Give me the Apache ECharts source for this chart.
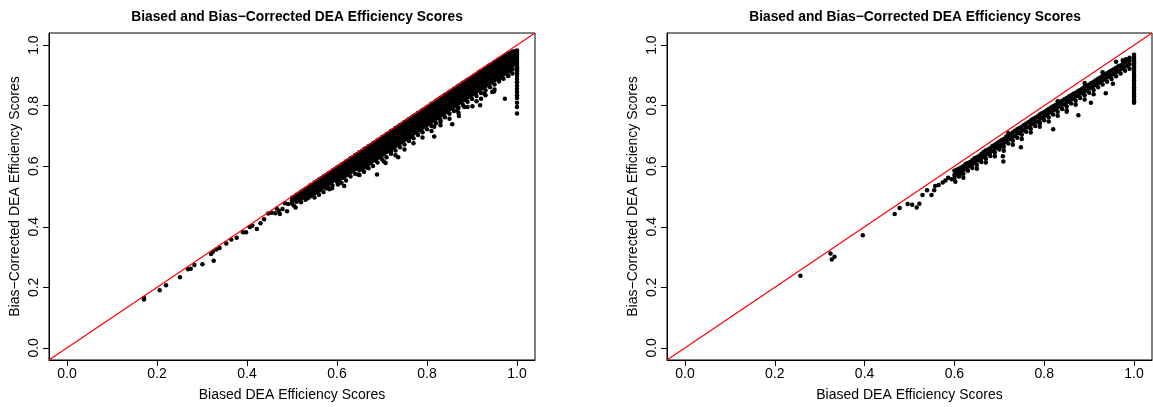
<!DOCTYPE html>
<html>
<head>
<meta charset="utf-8">
<script src="https://cdn.jsdelivr.net/npm/echarts@6/dist/echarts.min.js"></script>
<style>
  html, body { margin: 0; padding: 0; background: #fff; }
  #main { width: 1153px; height: 407px; }
</style>
</head>
<body>
<div id="main"></div>
<script>
// ---- data ----
var tickValues = [0, 0.2, 0.4, 0.6, 0.8, 1.0];
var titleText = 'Biased and Bias\u2212Corrected DEA Efficiency Scores';
var xName = 'Biased DEA Efficiency Scores';
var yName = 'Bias\u2212Corrected DEA Efficiency Scores';

// left panel: isolated points at the low end
var leftSparse = [
  [0.171, 0.165], [0.171, 0.160], [0.206, 0.190], [0.220, 0.207], [0.251, 0.233],
  [0.269, 0.260], [0.275, 0.261], [0.283, 0.274], [0.301, 0.276], [0.320, 0.310],
  [0.324, 0.317], [0.332, 0.325], [0.339, 0.330], [0.326, 0.288], [0.354, 0.345],
  [0.365, 0.358], [0.377, 0.364], [0.391, 0.382], [0.398, 0.382], [0.406, 0.399],
  [0.412, 0.403], [0.422, 0.393], [0.430, 0.412], [0.438, 0.425], [0.455, 0.446],
  [0.463, 0.445], [0.471, 0.453], [0.479, 0.459], [0.473, 0.442], [0.489, 0.451],
  [0.491, 0.475], [0.500, 0.480], [0.504, 0.470], [0.508, 0.464], [0.512, 0.497],
  [0.466, 0.460], [0.484, 0.478], [0.447, 0.444]
];
// left panel: stray points under the band
var leftOutliers = [
  [0.561, 0.521], [0.576, 0.527], [0.583, 0.524], [0.589, 0.527], [0.602, 0.540],
  [0.616, 0.535], [0.647, 0.573], [0.655, 0.600], [0.667, 0.595], [0.689, 0.573],
  [0.704, 0.616], [0.708, 0.611], [0.700, 0.643], [0.720, 0.647], [0.736, 0.630],
  [0.749, 0.690], [0.760, 0.692], [0.789, 0.736], [0.816, 0.698], [0.816, 0.730],
  [0.830, 0.747], [0.856, 0.739], [0.867, 0.785], [0.871, 0.766], [0.883, 0.796],
  [0.901, 0.798], [0.918, 0.801], [0.920, 0.823], [0.928, 0.839], [0.945, 0.845],
  [0.949, 0.847], [0.961, 0.888], [0.973, 0.823], [0.981, 0.899]
];
// left panel: dense band, each row = [biased, corrected, corrected, ...]
var leftBand = [
  [0.50, 0.496, 0.487, 0.476],
  [0.505, 0.500, 0.490],
  [0.51, 0.506, 0.495, 0.483],
  [0.515, 0.510, 0.499, 0.488],
  [0.52, 0.516, 0.505, 0.493, 0.481],
  [0.525, 0.520, 0.509, 0.497],
  [0.53, 0.526, 0.514, 0.503, 0.489],
  [0.535, 0.530, 0.519, 0.507, 0.494],
  [0.54, 0.536, 0.524, 0.512, 0.500],
  [0.545, 0.540, 0.529, 0.517, 0.505],
  [0.55, 0.546, 0.535, 0.523, 0.511, 0.497],
  [0.555, 0.550, 0.539, 0.527, 0.514],
  [0.56, 0.556, 0.545, 0.533, 0.520, 0.506],
  [0.565, 0.560, 0.549, 0.538, 0.525],
  [0.57, 0.566, 0.555, 0.544, 0.531, 0.515],
  [0.575, 0.570, 0.559, 0.548, 0.535],
  [0.58, 0.576, 0.565, 0.553, 0.541, 0.529],
  [0.585, 0.580, 0.569, 0.557, 0.544],
  [0.59, 0.586, 0.575, 0.563, 0.550, 0.536],
  [0.595, 0.590, 0.579, 0.568, 0.555],
  [0.60, 0.596, 0.585, 0.574, 0.562, 0.549],
  [0.605, 0.600, 0.589, 0.578, 0.566, 0.553],
  [0.61, 0.606, 0.595, 0.584, 0.572, 0.561, 0.545],
  [0.615, 0.610, 0.599, 0.588, 0.576, 0.563],
  [0.62, 0.616, 0.605, 0.594, 0.582, 0.569, 0.553],
  [0.625, 0.620, 0.609, 0.598, 0.586, 0.574],
  [0.63, 0.626, 0.615, 0.604, 0.592, 0.580, 0.566],
  [0.635, 0.630, 0.619, 0.608, 0.596, 0.584],
  [0.64, 0.636, 0.625, 0.613, 0.602, 0.590, 0.575],
  [0.645, 0.640, 0.629, 0.618, 0.606, 0.594],
  [0.65, 0.646, 0.635, 0.624, 0.612, 0.600, 0.587, 0.571],
  [0.655, 0.650, 0.639, 0.628, 0.616, 0.603, 0.590],
  [0.66, 0.656, 0.645, 0.634, 0.622, 0.609, 0.597, 0.582],
  [0.665, 0.660, 0.649, 0.638, 0.626, 0.614, 0.600],
  [0.67, 0.666, 0.655, 0.644, 0.632, 0.620, 0.607, 0.593],
  [0.675, 0.670, 0.659, 0.648, 0.636, 0.624, 0.611],
  [0.68, 0.676, 0.665, 0.654, 0.642, 0.630, 0.618, 0.601],
  [0.685, 0.680, 0.669, 0.658, 0.646, 0.634, 0.620],
  [0.69, 0.686, 0.675, 0.664, 0.652, 0.640, 0.627, 0.612],
  [0.695, 0.690, 0.679, 0.668, 0.656, 0.644, 0.631],
  [0.70, 0.696, 0.685, 0.674, 0.662, 0.650, 0.637, 0.623],
  [0.705, 0.700, 0.689, 0.678, 0.666, 0.654, 0.641],
  [0.71, 0.706, 0.695, 0.684, 0.672, 0.660, 0.647, 0.630],
  [0.715, 0.710, 0.699, 0.688, 0.676, 0.664, 0.650],
  [0.72, 0.716, 0.705, 0.694, 0.682, 0.670, 0.657, 0.641],
  [0.725, 0.720, 0.709, 0.698, 0.686, 0.674, 0.661],
  [0.73, 0.726, 0.715, 0.704, 0.692, 0.680, 0.667, 0.652, 0.636],
  [0.735, 0.730, 0.719, 0.708, 0.696, 0.684, 0.671],
  [0.74, 0.736, 0.725, 0.714, 0.702, 0.690, 0.677, 0.663],
  [0.745, 0.740, 0.729, 0.718, 0.706, 0.694, 0.680],
  [0.75, 0.746, 0.735, 0.724, 0.712, 0.700, 0.687, 0.672, 0.655],
  [0.755, 0.750, 0.739, 0.728, 0.716, 0.704, 0.691],
  [0.76, 0.756, 0.745, 0.734, 0.722, 0.710, 0.697, 0.683],
  [0.765, 0.760, 0.749, 0.738, 0.726, 0.714, 0.700],
  [0.77, 0.766, 0.755, 0.744, 0.732, 0.720, 0.707, 0.692, 0.676],
  [0.775, 0.770, 0.759, 0.748, 0.736, 0.724, 0.711],
  [0.78, 0.776, 0.765, 0.754, 0.742, 0.730, 0.717, 0.703],
  [0.785, 0.780, 0.769, 0.758, 0.746, 0.734, 0.720],
  [0.79, 0.786, 0.775, 0.764, 0.752, 0.740, 0.727, 0.712, 0.695],
  [0.795, 0.790, 0.779, 0.768, 0.756, 0.744, 0.731],
  [0.80, 0.796, 0.785, 0.774, 0.762, 0.750, 0.737, 0.722],
  [0.805, 0.800, 0.789, 0.778, 0.766, 0.754, 0.740],
  [0.81, 0.806, 0.795, 0.784, 0.772, 0.760, 0.747, 0.733, 0.716],
  [0.815, 0.810, 0.799, 0.788, 0.776, 0.764, 0.751],
  [0.82, 0.816, 0.805, 0.794, 0.782, 0.770, 0.757, 0.742],
  [0.825, 0.820, 0.809, 0.798, 0.786, 0.774, 0.760],
  [0.83, 0.826, 0.815, 0.804, 0.792, 0.780, 0.767, 0.753, 0.735],
  [0.835, 0.830, 0.819, 0.808, 0.796, 0.784, 0.771],
  [0.84, 0.836, 0.825, 0.814, 0.802, 0.790, 0.777, 0.762],
  [0.845, 0.840, 0.829, 0.818, 0.806, 0.794, 0.780],
  [0.85, 0.846, 0.835, 0.824, 0.812, 0.800, 0.787, 0.773, 0.757],
  [0.855, 0.850, 0.839, 0.828, 0.816, 0.804, 0.791],
  [0.86, 0.856, 0.845, 0.834, 0.822, 0.810, 0.797, 0.782],
  [0.865, 0.860, 0.849, 0.838, 0.826, 0.814, 0.800],
  [0.87, 0.866, 0.855, 0.844, 0.832, 0.820, 0.807, 0.793, 0.776],
  [0.875, 0.870, 0.859, 0.848, 0.836, 0.824, 0.811],
  [0.88, 0.876, 0.865, 0.854, 0.842, 0.830, 0.817, 0.802],
  [0.885, 0.880, 0.869, 0.858, 0.846, 0.834, 0.820],
  [0.89, 0.886, 0.875, 0.864, 0.852, 0.840, 0.827, 0.813, 0.796],
  [0.895, 0.890, 0.879, 0.868, 0.856, 0.844, 0.830],
  [0.90, 0.895, 0.884, 0.873, 0.861, 0.849, 0.836, 0.822],
  [0.905, 0.900, 0.889, 0.878, 0.866, 0.854, 0.840],
  [0.91, 0.905, 0.894, 0.883, 0.871, 0.859, 0.846, 0.832, 0.815],
  [0.915, 0.910, 0.899, 0.888, 0.876, 0.864, 0.851],
  [0.92, 0.915, 0.904, 0.893, 0.881, 0.869, 0.856, 0.842],
  [0.925, 0.919, 0.908, 0.897, 0.885, 0.873, 0.860],
  [0.93, 0.924, 0.913, 0.902, 0.890, 0.878, 0.865, 0.851, 0.834],
  [0.935, 0.929, 0.918, 0.907, 0.895, 0.883, 0.869],
  [0.94, 0.934, 0.923, 0.912, 0.900, 0.888, 0.875, 0.861],
  [0.945, 0.938, 0.927, 0.916, 0.904, 0.892, 0.879],
  [0.95, 0.943, 0.932, 0.921, 0.909, 0.897, 0.884, 0.870, 0.853],
  [0.955, 0.948, 0.937, 0.926, 0.914, 0.902, 0.888],
  [0.96, 0.953, 0.942, 0.931, 0.919, 0.907, 0.894, 0.880],
  [0.965, 0.957, 0.946, 0.935, 0.923, 0.911, 0.898],
  [0.97, 0.962, 0.951, 0.940, 0.928, 0.916, 0.903, 0.889],
  [0.975, 0.966, 0.955, 0.944, 0.932, 0.920, 0.907],
  [0.98, 0.971, 0.960, 0.949, 0.937, 0.925, 0.912, 0.898],
  [0.985, 0.974, 0.964, 0.953, 0.941, 0.929, 0.915],
  [0.99, 0.978, 0.968, 0.957, 0.945, 0.933, 0.920, 0.906],
  [0.995, 0.980, 0.971, 0.961, 0.950, 0.938]
];
// left panel: units with biased score 1.0
var leftAtOne = [
  0.774, 0.796, 0.810, 0.825, 0.834, 0.845, 0.855, 0.866, 0.877, 0.888,
  0.899, 0.906, 0.913, 0.920, 0.927, 0.934, 0.941, 0.948, 0.955, 0.962,
  0.969, 0.976, 0.982
];

// right panel
var rightSparse = [
  [0.257, 0.238], [0.324, 0.312], [0.327, 0.292], [0.333, 0.301], [0.396, 0.372],
  [0.467, 0.442], [0.478, 0.462], [0.496, 0.475], [0.506, 0.473], [0.516, 0.464],
  [0.522, 0.476], [0.529, 0.505], [0.539, 0.521], [0.549, 0.505], [0.555, 0.521],
  [0.557, 0.535], [0.565, 0.538], [0.574, 0.546], [0.580, 0.553], [0.586, 0.562],
  [0.594, 0.557], [0.602, 0.549], [0.604, 0.573], [0.614, 0.575]
];
var rightOutliers = [
  [0.659, 0.622], [0.704, 0.665], [0.709, 0.616], [0.708, 0.633], [0.748, 0.663],
  [0.790, 0.740], [0.820, 0.722], [0.850, 0.780], [0.876, 0.768], [0.904, 0.810],
  [0.937, 0.841], [0.953, 0.872], [0.960, 0.945], [0.975, 0.950], [0.982, 0.953],
  [0.990, 0.958], [0.930, 0.910], [0.890, 0.875], [0.830, 0.815], [0.720, 0.710]
];
var rightBand = [
  [0.60, 0.585, 0.571, 0.560],
  [0.605, 0.588, 0.574],
  [0.61, 0.592, 0.580, 0.566],
  [0.615, 0.596, 0.581],
  [0.62, 0.600, 0.588, 0.575, 0.562],
  [0.625, 0.607, 0.591],
  [0.63, 0.611, 0.598, 0.585],
  [0.635, 0.614, 0.600],
  [0.64, 0.620, 0.607, 0.594],
  [0.645, 0.626, 0.611],
  [0.65, 0.630, 0.618, 0.604, 0.592],
  [0.655, 0.634, 0.620],
  [0.66, 0.640, 0.627, 0.614],
  [0.665, 0.647, 0.631],
  [0.67, 0.652, 0.638, 0.625, 0.612],
  [0.675, 0.655, 0.640],
  [0.68, 0.660, 0.647, 0.634],
  [0.685, 0.667, 0.650],
  [0.69, 0.671, 0.658, 0.645, 0.633],
  [0.695, 0.676, 0.661],
  [0.70, 0.682, 0.668, 0.655],
  [0.705, 0.686, 0.670],
  [0.71, 0.690, 0.677, 0.664, 0.651],
  [0.715, 0.697, 0.681],
  [0.72, 0.702, 0.689, 0.675],
  [0.725, 0.705, 0.690],
  [0.73, 0.711, 0.697, 0.684, 0.671],
  [0.735, 0.717, 0.700],
  [0.74, 0.722, 0.708, 0.694],
  [0.745, 0.726, 0.710],
  [0.75, 0.730, 0.717, 0.704, 0.690],
  [0.755, 0.736, 0.719],
  [0.76, 0.741, 0.728, 0.714],
  [0.765, 0.745, 0.729],
  [0.77, 0.751, 0.737, 0.724, 0.711],
  [0.775, 0.756, 0.740],
  [0.78, 0.760, 0.747, 0.733],
  [0.785, 0.764, 0.748],
  [0.79, 0.771, 0.757, 0.744, 0.730],
  [0.795, 0.775, 0.759],
  [0.80, 0.779, 0.766, 0.752],
  [0.805, 0.784, 0.768],
  [0.81, 0.789, 0.776, 0.762, 0.748],
  [0.815, 0.794, 0.778],
  [0.82, 0.798, 0.785, 0.771],
  [0.825, 0.802, 0.787],
  [0.83, 0.807, 0.794, 0.780, 0.767],
  [0.835, 0.812, 0.797],
  [0.84, 0.816, 0.803, 0.789],
  [0.845, 0.821, 0.805],
  [0.85, 0.825, 0.812, 0.798, 0.785],
  [0.855, 0.830, 0.814],
  [0.86, 0.834, 0.821, 0.807],
  [0.865, 0.839, 0.824],
  [0.87, 0.843, 0.830, 0.816, 0.803],
  [0.875, 0.848, 0.832],
  [0.88, 0.852, 0.839, 0.825],
  [0.885, 0.857, 0.842],
  [0.89, 0.862, 0.848, 0.834, 0.820],
  [0.895, 0.866, 0.850],
  [0.90, 0.870, 0.857, 0.843],
  [0.905, 0.875, 0.860],
  [0.91, 0.879, 0.866, 0.852, 0.838],
  [0.915, 0.884, 0.869],
  [0.92, 0.889, 0.875, 0.861],
  [0.925, 0.893, 0.878],
  [0.93, 0.898, 0.884, 0.870],
  [0.935, 0.903, 0.887],
  [0.94, 0.907, 0.893, 0.879],
  [0.945, 0.912, 0.896],
  [0.95, 0.916, 0.902, 0.888],
  [0.955, 0.920, 0.905],
  [0.96, 0.925, 0.911, 0.897],
  [0.965, 0.930, 0.914],
  [0.97, 0.933, 0.920, 0.906],
  [0.975, 0.939, 0.923],
  [0.98, 0.943, 0.929, 0.915],
  [0.985, 0.946, 0.931],
  [0.99, 0.950, 0.937, 0.922]
];
var rightAtOne = [
  0.810, 0.815, 0.822, 0.830, 0.838, 0.846, 0.853, 0.860, 0.868, 0.876,
  0.884, 0.891, 0.898, 0.905, 0.912, 0.919, 0.926, 0.933, 0.940, 0.947,
  0.954, 0.961, 0.968
];

// ---- build point lists ----
function buildPoints(sparse, outliers, band, atOne) {
  var pts = sparse.concat(outliers);
  band.forEach(function (row) {
    for (var k = 1; k < row.length; k++) pts.push([row[0], row[k]]);
  });
  atOne.forEach(function (v) { pts.push([1.0, v]); });
  return pts;
}
var leftPoints = buildPoints(leftSparse, leftOutliers, leftBand, leftAtOne);
var rightPoints = buildPoints(rightSparse, rightOutliers, rightBand, rightAtOne);

var FONT = 'Liberation Sans, Arial, Helvetica, sans-serif';
var lo = -0.04, hi = 1.04;

function xAxisFor(i) {
  return {
    gridIndex: i, type: 'value', min: lo, max: hi,
    name: xName, nameLocation: 'middle', nameGap: 28,
    nameTextStyle: { fontFamily: FONT, fontSize: 14, color: '#000' },
    axisLine: { show: true, onZero: false, lineStyle: { color: '#000', width: 1 } },
    axisTick: { show: true, customValues: tickValues, length: 6, lineStyle: { color: '#000' } },
    axisLabel: {
      customValues: tickValues, fontFamily: FONT, fontSize: 14, color: '#000', margin: 7,
      formatter: function (v) { return Number(v).toFixed(1); }
    },
    splitLine: { show: false }
  };
}
function yAxisFor(i) {
  return {
    gridIndex: i, type: 'value', min: lo, max: hi,
    name: yName, nameLocation: 'middle', nameGap: 27, nameRotate: 90,
    nameTextStyle: { fontFamily: FONT, fontSize: 14, color: '#000' },
    axisLine: { show: true, onZero: false, lineStyle: { color: '#000', width: 1 } },
    axisTick: { show: true, customValues: tickValues, length: 6, lineStyle: { color: '#000' } },
    axisLabel: {
      customValues: tickValues, rotate: 90, fontFamily: FONT, fontSize: 14, color: '#000', margin: 8,
      formatter: function (v) { return Number(v).toFixed(1); }
    },
    splitLine: { show: false }
  };
}
function scatterFor(i, pts) {
  return {
    type: 'scatter', xAxisIndex: i, yAxisIndex: i, data: pts,
    symbol: 'circle', symbolSize: 4.5, itemStyle: { color: '#000', opacity: 1 }, z: 2, silent: true
  };
}
function diagFor(i) {
  return {
    type: 'line', xAxisIndex: i, yAxisIndex: i, data: [[lo, lo], [hi, hi]],
    symbol: 'none', lineStyle: { color: '#ff0000', width: 1.2 }, z: 3, silent: true
  };
}

var chart = echarts.init(document.getElementById('main'));
chart.setOption({
  animation: false,
  backgroundColor: '#fff',
  title: [
    { text: titleText, left: 292, top: 5, textAlign: 'center',
      textStyle: { fontFamily: FONT, fontSize: 13.8, fontWeight: 'bold', color: '#000' } },
    { text: titleText, left: 910, top: 5, textAlign: 'center',
      textStyle: { fontFamily: FONT, fontSize: 13.8, fontWeight: 'bold', color: '#000' } }
  ],
  grid: [
    { left: 49, top: 33, width: 486, height: 331, show: true, borderColor: '#000', borderWidth: 1, backgroundColor: 'transparent' },
    { left: 667, top: 33, width: 485, height: 331, show: true, borderColor: '#000', borderWidth: 1, backgroundColor: 'transparent' }
  ],
  xAxis: [xAxisFor(0), xAxisFor(1)],
  yAxis: [yAxisFor(0), yAxisFor(1)],
  series: [
    scatterFor(0, leftPoints), diagFor(0),
    scatterFor(1, rightPoints), diagFor(1)
  ]
});
</script>
</body>
</html>
